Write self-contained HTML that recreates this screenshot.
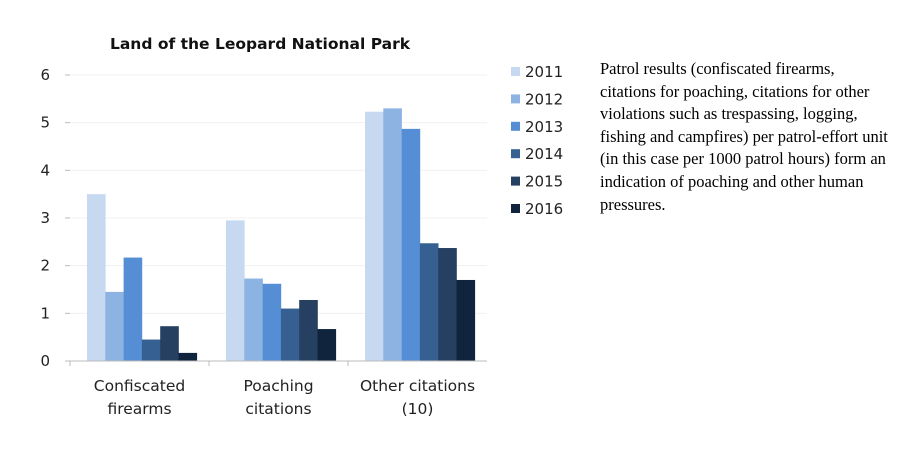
<!DOCTYPE html>
<html><head><meta charset="utf-8"><style>
body{margin:0;background:#fff;width:918px;height:468px;overflow:hidden}
svg text{font-family:"DejaVu Sans","Liberation Sans",sans-serif}
.note{position:absolute;left:600px;top:58px;width:288px;font-family:"Liberation Serif",serif;font-size:16.5px;line-height:22.6px;color:#000}
</style></head><body>
<svg id="chart" width="918" height="468" style="position:absolute;left:0;top:0">
<text x="260" y="49" text-anchor="middle" font-size="15.5" font-weight="bold" fill="#111">Land of the Leopard National Park</text>
<g id="grid"></g><g id="bars"></g><g id="axes"></g><g id="legend"></g>
</svg>
<div class="note">Patrol results (confiscated firearms, citations for poaching, citations for other violations such as trespassing, logging, fishing and campfires) per patrol-effort unit (in this case per 1000 patrol hours) form an indication of poaching and other human pressures.</div>
<script>
const categories=[["Confiscated","firearms"],["Poaching","citations"],["Other citations","(10)"]];
const years=["2011","2012","2013","2014","2015","2016"];
const s2011=[3.5,2.95,5.23];
const s2012=[1.45,1.73,5.3];
const s2013=[2.17,1.62,4.87];
const s2014=[0.45,1.1,2.47];
const s2015=[0.73,1.28,2.37];
const s2016=[0.17,0.67,1.7];
const yTicks=[0,1,2,3,4,5,6];
const series=[s2011,s2012,s2013,s2014,s2015,s2016];
const colors=["#c6d9f1","#8db3e2","#558ed5","#376092","#254061","#10243e"];
const NS="http://www.w3.org/2000/svg";
const x0=70,x1=487,y0=361,yTop=75,yMax=6;
const y=v=>y0-(v/yMax)*(y0-yTop);
const cw=(x1-x0)/categories.length, bw=18.3, off=17;
function mk(t,a,p){const e=document.createElementNS(NS,t);for(const k in a)e.setAttribute(k,a[k]);p.appendChild(e);return e;}
const grid=document.getElementById('grid'),bars=document.getElementById('bars'),axes=document.getElementById('axes'),legend=document.getElementById('legend');
yTicks.forEach(t=>{
 if(t>0){const g=mk('line',{x1:x0,x2:x1,y1:y(t),y2:y(t),stroke:'#f0f0f0','stroke-width':1},grid);
 
 }
 const tk=mk('line',{x1:x0-5,x2:x0,y1:y(t),y2:y(t),stroke:'#bbb'},axes);
 
 
 const l=mk('text',{x:50,y:y(t)+5,'text-anchor':'end','font-size':15,fill:'#222'},axes);l.textContent=t;
 
 
});
series.forEach((s,si)=>s.forEach((v,ci)=>{
 const r=mk('rect',{x:x0+ci*cw+off+si*bw,y:y(v),width:bw+0.3,height:y0-y(v),fill:colors[si]},bars);
 
 
}));
const ax=mk('line',{x1:x0,x2:x1,y1:y0,y2:y0,stroke:'#bbb'},axes);


categories.forEach((c,ci)=>{
 const tk=mk('line',{x1:x0+ci*cw,x2:x0+ci*cw,y1:y0,y2:y0+5,stroke:'#bbb'},axes);
 
 
 c.forEach((ln,li)=>{const t=mk('text',{x:x0+ci*cw+cw/2,y:391+li*23,'text-anchor':'middle','font-size':15.5,fill:'#222'},axes);t.textContent=ln;
 
 });
});
years.forEach((yr,i)=>{
 const ly=72+i*27.4;
 const r=mk('rect',{x:511,y:ly-5,width:9,height:9,fill:colors[i]},legend);
 
 
 const t=mk('text',{x:525,y:ly+5,'font-size':15,fill:'#222'},legend);t.textContent=yr;
 
 
});
</script>
</body></html>
